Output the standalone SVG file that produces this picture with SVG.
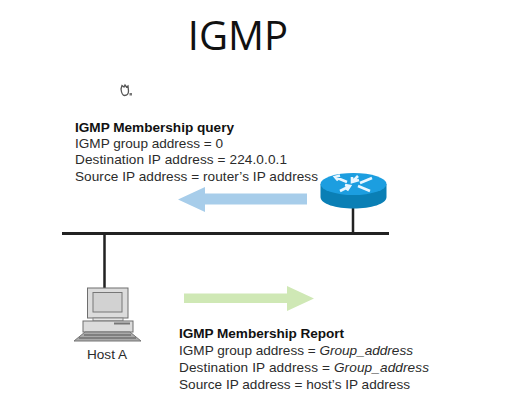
<svg xmlns="http://www.w3.org/2000/svg" width="507" height="418" viewBox="0 0 507 418">
<style>
text{font-family:"Liberation Sans",Arial,sans-serif;fill:#2b2b2b}
.t{font-size:13.600px}
.b{font-size:13.600px;font-weight:700;fill:#111}
.w{stroke:#222;fill:none}
.pc{stroke:#6e6e6e;stroke-width:1;fill:#dcdcdc}
</style>
<rect width="507" height="418" fill="#fff"/>
<text x="238" y="50" text-anchor="middle" style="font-family:'Open Sans',sans-serif;font-size:40px;fill:#111">IGMP</text>
<g id="cursor"><path d="M121 89L122 85.500L124 87L125 85L126.500 87L128 86L128.500 91C128.500 94 126.500 95.500 124.500 95.500C122.500 95.500 121.500 93 121 89Z" fill="#fff" stroke="#555" stroke-width="1.300"/><rect x="129.500" y="93" width="2.500" height="2.500" fill="#777"/></g>
<g id="connectors">
<path class="w" stroke-width="3" d="M62 233.500H389"/>
<path class="w" stroke-width="2.500" d="M353 205V233M104.500 234V288"/>
</g>
<g id="arrows">
<path d="M307 193.500V204.500H205V212L178 199.500L205 187V193.500Z" fill="#a7cdea"/>
<path d="M184 293.500H287V286L314 298.500L287 311V303H184Z" fill="#cfe8b5"/>
</g>
<g id="router">
<path d="M320.500 184V197C320.500 204 336 208.500 353.500 208.500C371 208.500 386.500 204 386.500 197V184Z" fill="#0a7fb5"/>
<ellipse cx="353.500" cy="184" rx="33" ry="11" fill="#1c9ee0"/>
<path d="M335 177L347 182M340 175.500L335 177L338 180.500M372 178L360 183M340 191L350 186M347 190.500L350 186L345 185M358 186L370 191M358 176L352 182M359 180L352 182L352 177" stroke="#e8f6ff" stroke-width="2.600" fill="none"/>
</g>
<g id="host-a">
<rect class="pc" x="87.500" y="288" width="40.500" height="30"/>
<rect x="93" y="292.500" width="29" height="19.500" fill="#d2d2d2" stroke="#777"/>
<rect x="93" y="318" width="30" height="3" fill="#e4e4e4" stroke="#888"/>
<rect class="pc" x="83" y="321" width="50" height="11" fill="#e8e8e8"/>
<path d="M114 323.500H130" stroke="#777" stroke-width="2"/>
<path d="M85 332H130L141 341H74Z" fill="#aaa" stroke="#777"/>
<path d="M84 335H131M79 338H136" stroke="#555" stroke-width="1"/>
<text class="t" x="107" y="359" text-anchor="middle">Host A</text>
</g>
<g id="query-label">
<text class="b" x="75" y="132" textLength="159">IGMP Membership query</text>
<text class="t" x="75" y="148" textLength="148">IGMP group address = 0</text>
<text class="t" x="75" y="164" textLength="212">Destination IP address = 224.0.0.1</text>
<text class="t" x="75" y="181" textLength="243">Source IP address = router’s IP address</text>
</g>
<g id="report-label">
<text class="b" x="179" y="338" textLength="165">IGMP Membership Report</text>
<text class="t" x="179" y="355" textLength="234">IGMP group address = <tspan font-style="italic">Group_address</tspan></text>
<text class="t" x="179" y="372" textLength="250">Destination IP address = <tspan font-style="italic">Group_address</tspan></text>
<text class="t" x="179" y="389" textLength="231">Source IP address = host’s IP address</text>
</g>
</svg>
